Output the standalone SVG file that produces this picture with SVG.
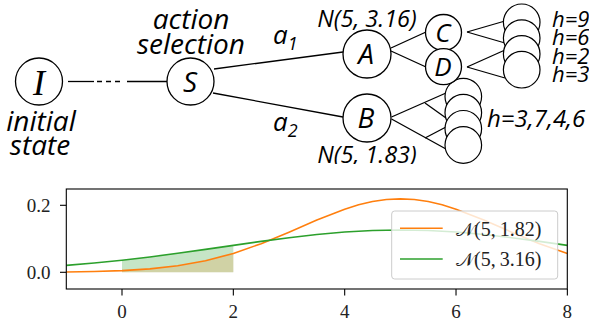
<svg xmlns="http://www.w3.org/2000/svg" width="589" height="328" viewBox="0 0 589 328">
<style>
.nd{fill:#fff;stroke:#000;stroke-width:1.3}
.lf{fill:#fff;stroke:#000;stroke-width:1.2}
.ln{stroke:#000;stroke-width:1.3;fill:none}
.t{font-family:"Open Sans","Noto Sans",sans-serif;font-style:italic;fill:#000}
.m{font-family:"Liberation Serif","DejaVu Serif",serif;fill:#222}
.ax{stroke:#000;stroke-width:1.1;fill:none}
</style>
<defs>
<clipPath id="clipB"><rect x="280" y="130" width="160" height="34"/></clipPath>
<clipPath id="plot"><rect x="66.3" y="189" width="501" height="100"/></clipPath>
</defs>
<g id="connectors">
<line class="ln" x1="68" y1="81.5" x2="94" y2="81.5"/>
<line class="ln" x1="97" y1="81.5" x2="124" y2="81.5" stroke-dasharray="5,4"/>
<line class="ln" x1="127" y1="81.5" x2="167" y2="81.5"/>
<line class="ln" x1="214" y1="69" x2="343" y2="52"/>
<line class="ln" x1="213" y1="93" x2="343" y2="117"/>
<line class="ln" x1="391" y1="48" x2="426" y2="32"/>
<line class="ln" x1="391" y1="51" x2="426" y2="67"/>
<line class="ln" x1="467" y1="32" x2="505" y2="21"/>
<line class="ln" x1="467" y1="32" x2="505" y2="43"/>
<line class="ln" x1="467" y1="67" x2="505" y2="50"/>
<line class="ln" x1="467" y1="67" x2="505" y2="78"/>
<line class="ln" x1="391.5" y1="117" x2="446" y2="93"/>
<line class="ln" x1="391.5" y1="119" x2="446" y2="149"/>
<line class="ln" x1="425" y1="103" x2="446" y2="118"/>
<line class="ln" x1="425" y1="138" x2="446" y2="127"/>
</g>
<g id="node-I"><circle class="nd" cx="39" cy="81.5" r="23.5"/><text x="39" y="94.5" text-anchor="middle" font-family="Liberation Serif,serif" font-style="italic" font-size="36">I</text></g>
<g id="label-initial"><text class="t" x="41" y="131" text-anchor="middle" font-size="28">initial</text><text class="t" x="40" y="155" text-anchor="middle" font-size="28">state</text></g>
<g id="node-S"><circle class="nd" cx="190.5" cy="81.5" r="23.5"/><text class="t" x="190" y="91.5" text-anchor="middle" font-size="28">S</text></g>
<g id="label-action"><text class="t" x="191" y="29" text-anchor="middle" font-size="28">action</text><text class="t" x="191" y="53.5" text-anchor="middle" font-size="28">selection</text></g>
<g id="label-a1"><text class="t" x="273" y="43.5" font-size="26">a<tspan font-size="18" dy="6">1</tspan></text></g>
<g id="label-a2"><text class="t" x="273" y="131" font-size="26">a<tspan font-size="18" dy="6">2</tspan></text></g>
<g id="leavesB">
<circle class="lf" cx="463.3" cy="96.6" r="18.3"/>
<circle class="lf" cx="463.3" cy="112.7" r="18.3"/>
<circle class="lf" cx="463.3" cy="128.8" r="18.3"/>
<circle class="lf" cx="463.3" cy="145" r="18.3"/>
</g>
<g id="leavesCD">
<circle class="lf" cx="521.7" cy="22.3" r="18.3"/>
<circle class="lf" cx="521.7" cy="38.1" r="18.3"/>
<circle class="lf" cx="521.7" cy="53.9" r="18.3"/>
<circle class="lf" cx="521.7" cy="69.7" r="18.3"/>
</g>
<g id="node-A"><circle class="nd" cx="367" cy="54" r="24"/><text class="t" x="366" y="64" text-anchor="middle" font-size="28">A</text></g>
<g id="label-NA"><text class="t" x="367" y="26.5" text-anchor="middle" font-size="23.5">N(5, 3.16)</text></g>
<g id="node-B"><circle class="nd" cx="367" cy="118" r="24"/><text class="t" x="366" y="128" text-anchor="middle" font-size="28">B</text></g>
<g id="label-NB" clip-path="url(#clipB)"><text class="t" x="367" y="163" text-anchor="middle" font-size="23.5">N(5, 1.83)</text></g>
<g id="node-C"><circle class="nd" cx="443.5" cy="32.5" r="18"/><text class="t" x="443" y="42" text-anchor="middle" font-size="26">C</text></g>
<g id="node-D"><circle class="nd" cx="443.5" cy="66.7" r="18"/><text class="t" x="443" y="76" text-anchor="middle" font-size="26">D</text></g>
<g id="labels-h">
<text class="t" x="552" y="26.5" font-size="22">h=9</text>
<text class="t" x="552" y="45" font-size="22">h=6</text>
<text class="t" x="552" y="63.5" font-size="22">h=2</text>
<text class="t" x="552" y="82" font-size="22">h=3</text>
<text class="t" x="487" y="127" font-size="24">h=3,7,4,6</text>
</g>
<g id="plot">
<g clip-path="url(#plot)">
<path d="M122,272.3 L122,260.2 L149.84,256.96 L177.67,253.32 L205.5,249.4 L233.34,245.35 L233.34,272.3 Z" fill="#2ca02c" fill-opacity="0.27"/>
<path d="M122,272.3 L122,270.61 L149.84,268.85 L177.67,265.74 L205.5,260.74 L233.34,253.42 L233.34,272.3 Z" fill="#ff7f0e" fill-opacity="0.18"/>
<polyline fill="none" stroke="#ff7f0e" stroke-width="1.6" stroke-linejoin="round" points="66.33,271.98 94.17,271.54 122,270.61 149.84,268.85 177.67,265.74 205.5,260.74 233.34,253.42 261.18,243.71 289.01,232.17 316.85,220.01 344.68,209.15 358.6,204.8 372.5,201.58 386.4,199.55 400.35,198.87 414.3,199.55 428.2,201.58 442.1,204.8 456.02,209.15 483.86,220.01 511.69,232.17 539.5,243.71 567.36,253.42"/>
<polyline fill="none" stroke="#2ca02c" stroke-width="1.6" stroke-linejoin="round" points="66.33,265.33 94.17,263 122,260.2 149.84,256.96 177.67,253.32 205.5,249.4 233.34,245.35 261.18,241.38 289.01,237.68 316.85,234.52 344.68,232.07 372.5,230.53 400.35,230 428.2,230.53 456.02,232.07 483.86,234.52 511.69,237.68 539.5,241.38 567.36,245.35"/>
</g>
<rect class="ax" x="66.3" y="189" width="501" height="100"/>
<g class="ax">
<line x1="60" y1="205.3" x2="66.3" y2="205.3"/>
<line x1="60" y1="272.3" x2="66.3" y2="272.3"/>
<line x1="122" y1="289" x2="122" y2="295.5"/>
<line x1="233.34" y1="289" x2="233.34" y2="295.5"/>
<line x1="344.68" y1="289" x2="344.68" y2="295.5"/>
<line x1="456.02" y1="289" x2="456.02" y2="295.5"/>
<line x1="567.36" y1="289" x2="567.36" y2="295.5"/>
</g>
<g class="m" font-size="19">
<text x="50.5" y="211.8" text-anchor="end">0.2</text>
<text x="50.5" y="278.8" text-anchor="end">0.0</text>
<text x="122" y="318" text-anchor="middle">0</text>
<text x="233.34" y="318" text-anchor="middle">2</text>
<text x="344.68" y="318" text-anchor="middle">4</text>
<text x="456.02" y="318" text-anchor="middle">6</text>
<text x="567.36" y="318" text-anchor="middle">8</text>
</g>
<g id="legend">
<rect x="391.7" y="211" width="166" height="68" rx="3" fill="#fff" fill-opacity="0.8" stroke="#ccc" stroke-width="1"/>
<line x1="400" y1="228.3" x2="442.7" y2="228.3" stroke="#ff7f0e" stroke-width="1.6"/>
<line x1="400" y1="259" x2="442.7" y2="259" stroke="#2ca02c" stroke-width="1.6"/>
<text class="m" x="456" y="235.5" font-size="20"><tspan font-family="DejaVu Sans,Noto Sans,serif" font-size="19">𝒩</tspan>(5,<tspan dx="4">1.82)</tspan></text>
<text class="m" x="456" y="266" font-size="20"><tspan font-family="DejaVu Sans,Noto Sans,serif" font-size="19">𝒩</tspan>(5,<tspan dx="4">3.16)</tspan></text>
</g>
</g>
</svg>
